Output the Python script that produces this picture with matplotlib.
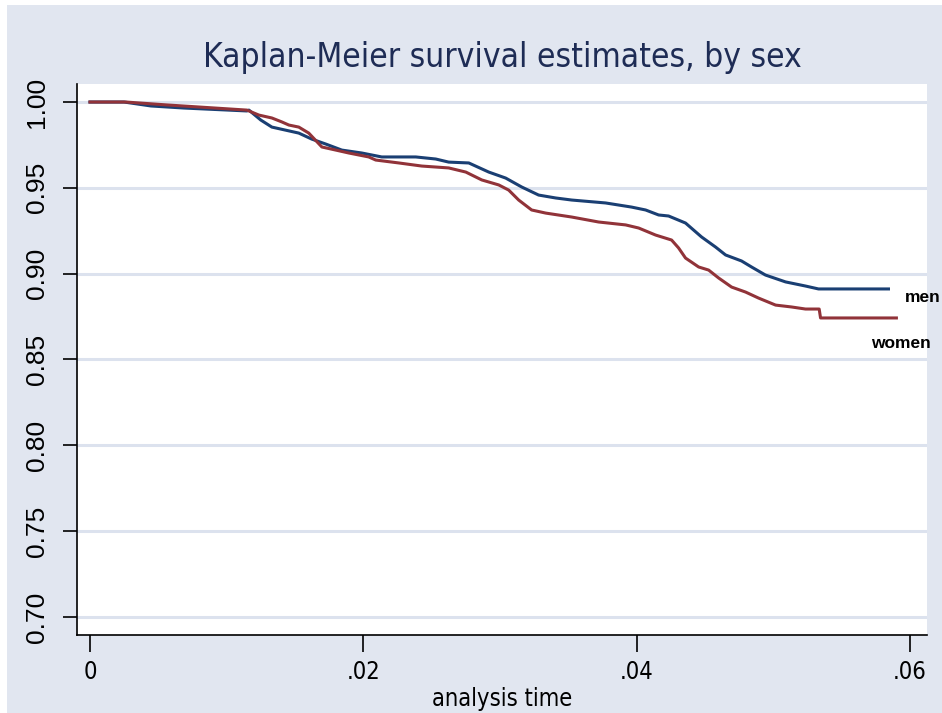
import matplotlib.pyplot as plt
from matplotlib.patches import Rectangle

# tiempos y supervivencia
t_men = [0, 0.00249, 0.00446, 0.00687, 0.01148, 0.01163, 0.01250, 0.01331,
         0.01528, 0.01623, 0.01726, 0.01843, 0.01989, 0.02135, 0.02384,
         0.02530, 0.02625, 0.02772, 0.02918, 0.03042, 0.03159, 0.03283,
         0.03408, 0.03525, 0.03773, 0.03963, 0.04066, 0.04161, 0.04234,
         0.04358, 0.04475, 0.04578, 0.04651, 0.04768, 0.04841, 0.04943,
         0.05090, 0.05236, 0.05331, 0.05843]
s_men = [1.000, 1.000, 0.9977, 0.9965, 0.9948, 0.9953, 0.9895, 0.9854,
         0.9819, 0.9784, 0.9755, 0.9720, 0.9703, 0.9680, 0.9680,
         0.9668, 0.9650, 0.9645, 0.9592, 0.9557, 0.9505, 0.9458,
         0.9441, 0.9429, 0.9412, 0.9388, 0.9371, 0.9342, 0.9336,
         0.9295, 0.9214, 0.9155, 0.9109, 0.9074, 0.9039, 0.8992,
         0.8952, 0.8928, 0.8911, 0.8911]

t_women = [0, 0.00263, 0.00563, 0.01148, 0.01236, 0.01331, 0.01404, 0.01455,
           0.01528, 0.01601, 0.01697, 0.01799, 0.01894, 0.02040, 0.02091,
           0.02260, 0.02428, 0.02625, 0.02750, 0.02867, 0.02991, 0.03064,
           0.03137, 0.03232, 0.03335, 0.03525, 0.03722, 0.03920, 0.04015,
           0.04139, 0.04256, 0.04307, 0.04358, 0.04454, 0.04527, 0.04600,
           0.04695, 0.04797, 0.04892, 0.05017, 0.05134, 0.05236, 0.05336,
           0.05346, 0.05901]
s_women = [1.000, 1.000, 0.9983, 0.9953, 0.9924, 0.9907, 0.9884, 0.9866,
           0.9854, 0.9819, 0.9738, 0.9720, 0.9703, 0.9680, 0.9662,
           0.9645, 0.9627, 0.9616, 0.9592, 0.9546, 0.9517, 0.9487,
           0.9429, 0.9371, 0.9353, 0.9330, 0.9301, 0.9284, 0.9266,
           0.9225, 0.9196, 0.9150, 0.9091, 0.9039, 0.9021, 0.8975,
           0.8922, 0.8893, 0.8858, 0.8817, 0.8806, 0.8794, 0.8794,
           0.8742, 0.8742]

yticks = [0.70, 0.75, 0.80, 0.85, 0.90, 0.95, 1.00]
xticks = [0, 0.02, 0.04, 0.06]
xlabels = ['0', '.02', '.04', '.06']

normal = ['Liberation Sans', 'DejaVu Sans']
estrecha = dict(family='DejaVu Sans', fontstretch='condensed')

fondo = '#E1E6F0'
azul = '#1A3F73'
rojo = '#913339'

fig = plt.figure(figsize=(9.42, 7.13), dpi=100, facecolor='white')
fig.patches.append(Rectangle((7 / 942, 0), 1, 708 / 713, transform=fig.transFigure,
                             facecolor=fondo, edgecolor='none', zorder=-10))

ax = fig.add_axes([77 / 942, 78 / 713, 850 / 942, 551 / 713])
ax.set_facecolor('white')

ax.plot(t_men, s_men, color=azul, lw=2.2, zorder=3)
ax.plot(t_women, s_women, color=rojo, lw=2.2, zorder=3)

ax.text(0.05960, 0.8864, 'men', fontsize=12.5, fontweight='bold', family=normal,
        ha='left', va='center', clip_on=False)
ax.text(0.05718, 0.8596, 'women', fontsize=12.5, fontweight='bold', family=normal,
        ha='left', va='center', clip_on=False)

ax.set_xlim(-0.00095, 0.06125)
ax.set_ylim(0.6895, 1.0105)

ax.set_yticks(yticks)
ax.set_yticklabels(['%.2f' % v for v in yticks], rotation=90, va='center',
                   fontsize=19, family=normal)
ax.set_xticks(xticks)
ax.set_xticklabels(xlabels, fontsize=17, **estrecha)
ax.tick_params(axis='y', length=10, width=1.2, pad=10)
ax.tick_params(axis='x', length=12, width=1.2, pad=6)

ax.grid(axis='y', color='#DCE2EE', lw=2.2, zorder=0)
ax.set_axisbelow(True)
for lado in ['top', 'right']:
    ax.spines[lado].set_visible(False)
for lado in ['left', 'bottom']:
    ax.spines[lado].set_linewidth(1.2)

ax.set_xlabel('analysis time', fontsize=17, labelpad=2, **estrecha)
fig.text(502 / 942, 1 - 57 / 713, 'Kaplan-Meier survival estimates, by sex',
         fontsize=24, color='#1E2C55', ha='center', va='center', **estrecha)

plt.savefig('out.png', dpi=100, facecolor=fig.get_facecolor())
